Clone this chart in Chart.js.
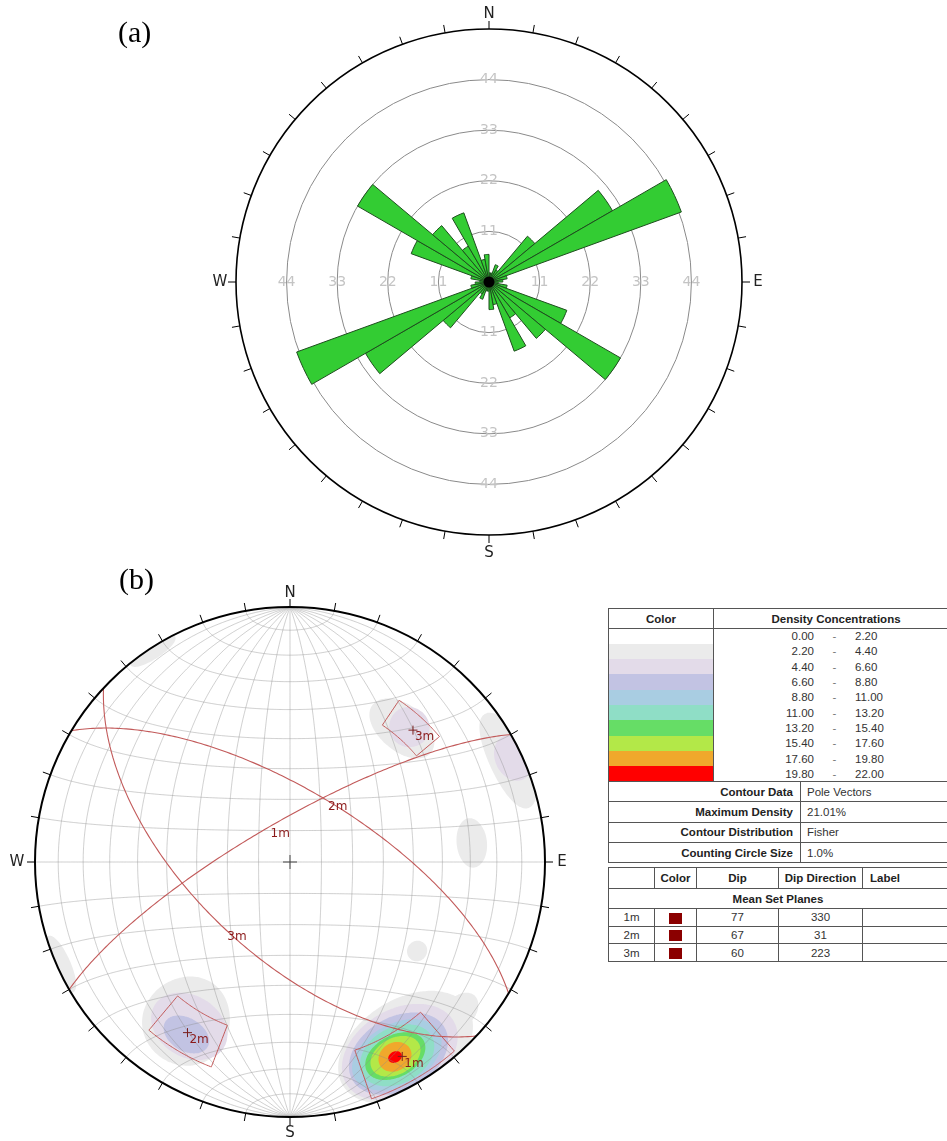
<!DOCTYPE html>
<html>
<head>
<meta charset="utf-8">
<script src="https://cdn.jsdelivr.net/npm/chart.js@4.4.1/dist/chart.umd.min.js"></script>
<style>
  body { margin: 0; width: 947px; height: 1141px; overflow: hidden; background: #fff; position: relative; }
  canvas { position: absolute; }
  .plab { position: absolute; font-family: "Liberation Serif", serif; font-size: 30px; line-height: 30px; color: #000; }
  .tbl { position: absolute; border-collapse: collapse; table-layout: fixed; font: 11.5px "Liberation Sans", Arial, sans-serif; color: #333; }
  .tbl td, .tbl th { border: 1px solid #555; padding: 0; white-space: nowrap; overflow: hidden; }
  .tbl th { color: #222; }
  .tbl td.sw, .tbl td.rng { border-top: none; border-bottom: none; line-height: 14px; }
  .lo { display: inline-block; width: 100px; text-align: right; }
  .dash { display: inline-block; width: 41px; text-align: center; color: #777; }
  .hi { display: inline-block; text-align: left; }
  .c { text-align: center; }
  .sq { display: inline-block; width: 13px; height: 11px; background: #8b0000; vertical-align: middle; }
</style>
</head>
<body>
<canvas id="rose" width="947" height="565" style="left:0;top:0"></canvas>
<canvas id="net" width="600" height="576" style="left:0;top:565px"></canvas>
<div class="plab" style="left:118px;top:17px">(a)</div>
<div class="plab" style="left:119px;top:564px">(b)</div>
<table id="t1" class="tbl" style="left:608px;top:608px;width:350px"></table>
<table id="t2" class="tbl" style="left:608px;top:867px;width:339px"></table>
<script>
// ---- (a) rose diagram: 10 degree bins, counts
const roseLabels = ['0-10','10-20','20-30','30-40','40-50','50-60','60-70','70-80','80-90',
  '90-100','100-110','110-120','120-130','130-140','140-150','150-160','160-170','170-180',
  '180-190','190-200','200-210','210-220','220-230','230-240','240-250','250-260','260-270',
  '270-280','280-290','290-300','300-310','310-320','320-330','330-340','340-350','350-360'];
const roseCounts = [2, 2, 4, 3, 13, 31, 44.5, 4, 3, 2, 4, 18, 33, 16, 9, 16, 5, 6,
                    2, 2, 4, 3, 13, 31, 44.5, 4, 3, 2, 4, 18, 33, 16, 9, 16, 5, 6];
const ringValues = [11, 22, 33, 44];
const roseMax = 55;

// ---- (b) density contour legend
const levelLow = [0.00, 2.20, 4.40, 6.60, 8.80, 11.00, 13.20, 15.40, 17.60, 19.80];
const levelHigh = [2.20, 4.40, 6.60, 8.80, 11.00, 13.20, 15.40, 17.60, 19.80, 22.00];
const levelColors = ['#ffffff', '#ebebeb', '#e3dbe9', '#c2c3e3', '#a9cde2', '#8fdec6',
                     '#66dd66', '#b3e848', '#f0a82c', '#ff0000'];
const infoNames = ['Contour Data', 'Maximum Density', 'Contour Distribution', 'Counting Circle Size'];
const infoValues = ['Pole Vectors', '21.01%', 'Fisher', '1.0%'];

// mean set planes
const setNames = ['1m', '2m', '3m'];
const setDip = [77, 67, 60];
const setDipDir = [330, 31, 223];
// set windows on the poles (trend / plunge ranges, degrees)
const winTrendMin = [139, 201, 34];
const winTrendMax = [161, 220, 50];
const winPlungeMin = [2, 15, 24.5];
const winPlungeMax = [23, 32, 35.5];

// density patches: contour level, centre trend/plunge, angular half-widths (across, along plunge)
const patchLevel  = [1, 1, 1, 1, 1, 1, 1, 1, 1, 2, 2, 2, 2, 3, 3, 4, 5, 6, 7, 8, 9];
const patchTrend  = [148, 131, 327, 213, 40, 65, 246, 84, 125, 150, 211.5, 41.5, 65, 150.5, 211, 151, 151, 151.5, 151.5, 151.7, 151.7];
const patchPlunge = [14, 12, 1, 26, 31.8, 5, 1, 29, 39, 14, 25, 30, 4, 14, 22, 14, 14, 14.2, 14.2, 14.2, 14.2];
const patchSpreadT = [18.5, 5, 6, 11.7, 10.5, 12.2, 7, 6.8, 3, 15.6, 10.9, 5.6, 5.5, 13.3, 6.5, 12.1, 9.9, 8.1, 6.7, 4.3, 1.8];
const patchSpreadP = [19.5, 6, 4, 17, 8.4, 9, 5, 5.6, 3.5, 17.3, 11.6, 7.3, 7.5, 14.8, 6.3, 12.5, 11.3, 8.4, 7.3, 5.7, 2.2];

Chart.defaults.font.family = '"DejaVu Sans", sans-serif';
Chart.defaults.animation = false;

// ---------------- rose diagram
const roseDecor = {
  id: 'roseDecor',
  afterDraw(chart) {
    const s = chart.scales.r, ctx = chart.ctx;
    const cx = s.xCenter, cy = s.yCenter, r = s.drawingArea;
    ctx.save();
    ctx.fillStyle = '#c4c4c4';
    ctx.font = '14px "DejaVu Sans"';
    ctx.textAlign = 'center';
    ctx.textBaseline = 'middle';
    [0, 9, 18, 27].forEach(idx => {
      ringValues.forEach(v => {
        const p = s.getPointPositionForValue(idx, v);
        ctx.fillText(String(v), p.x, p.y);
      });
    });
    ctx.strokeStyle = '#000';
    ctx.lineWidth = 1;
    for (let a = 0; a < 360; a += 10) {
      const t = a * Math.PI / 180;
      ctx.beginPath();
      ctx.moveTo(cx + Math.sin(t) * r, cy - Math.cos(t) * r);
      ctx.lineTo(cx + Math.sin(t) * (r + 8), cy - Math.cos(t) * (r + 8));
      ctx.stroke();
    }
    ctx.fillStyle = '#222';
    ctx.font = '15px "DejaVu Sans"';
    ctx.fillText('N', cx, cy - r - 15);
    ctx.fillText('S', cx, cy + r + 18);
    ctx.fillText('W', cx - r - 16, cy);
    ctx.fillText('E', cx + r + 16, cy);
    ctx.fillStyle = '#000';
    ctx.beginPath();
    ctx.arc(cx, cy, 5.5, 0, 2 * Math.PI);
    ctx.fill();
    ctx.restore();
  }
};

new Chart(document.getElementById('rose'), {
  type: 'polarArea',
  data: {
    labels: roseLabels,
    datasets: [{
      data: roseCounts,
      backgroundColor: '#33cc33',
      borderColor: '#1d4d1d',
      borderWidth: 1
    }]
  },
  options: {
    responsive: false,
    events: [],
    layout: { padding: { left: 236, right: 205, top: 29, bottom: 30 } },
    plugins: { legend: { display: false }, tooltip: { enabled: false } },
    scales: {
      r: {
        min: 0,
        max: roseMax,
        startAngle: 0,
        ticks: { display: false },
        afterBuildTicks: s => { s.ticks = [0, ...ringValues, roseMax].map(v => ({ value: v })); },
        grid: {
          circular: true,
          color: c => (c.tick && c.tick.value === roseMax) ? '#000' : '#8a8a8a',
          lineWidth: c => (c.tick && c.tick.value === roseMax) ? 1.6 : 1
        },
        angleLines: { display: false },
        pointLabels: { display: false }
      }
    }
  },
  plugins: [roseDecor]
});

// ---------------- stereonet (lower hemisphere, equal area)
const D = Math.PI / 180;
function dirVec(trend, plunge) {
  const t = trend * D, p = plunge * D;
  return [Math.cos(p) * Math.cos(t), Math.cos(p) * Math.sin(t), Math.sin(p)];
}
function project(v) {
  let [n, e, d] = v;
  if (d < 0) { const h = Math.hypot(n, e) || 1; n /= h; e /= h; d = 0; }
  const k = 1 / Math.sqrt(1 + d);
  return { x: e * k, y: n * k };
}
function planeCurve(dip, dipDir) {
  const s = (dipDir - 90) * D, a = dipDir * D, dp = dip * D;
  const sv = [Math.cos(s), Math.sin(s), 0];
  const dv = [Math.cos(dp) * Math.cos(a), Math.cos(dp) * Math.sin(a), Math.sin(dp)];
  const pts = [];
  for (let f = 0; f <= 180; f += 2) {
    const c = Math.cos(f * D), sn = Math.sin(f * D);
    pts.push(project([c * sv[0] + sn * dv[0], c * sv[1] + sn * dv[1], c * sv[2] + sn * dv[2]]));
  }
  return pts;
}
function smallCircleNS(beta) {
  const pts = [];
  for (let f = 0; f <= 180; f += 3) {
    pts.push(project([Math.cos(beta * D), Math.sin(beta * D) * Math.cos(f * D), Math.sin(beta * D) * Math.sin(f * D)]));
  }
  return pts;
}
function windowShape(i) {
  const t1 = winTrendMin[i], t2 = winTrendMax[i], p1 = winPlungeMin[i], p2 = winPlungeMax[i];
  const pts = [];
  for (let k = 0; k <= 12; k++) pts.push(project(dirVec(t1 + (t2 - t1) * k / 12, p1)));
  for (let k = 12; k >= 0; k--) pts.push(project(dirVec(t1 + (t2 - t1) * k / 12, p2)));
  pts.push(pts[0]);
  return pts;
}
function patchShape(i) {
  const t = patchTrend[i] * D, p = patchPlunge[i] * D;
  const a = patchSpreadT[i] * D, b = patchSpreadP[i] * D;
  const c = dirVec(patchTrend[i], patchPlunge[i]);
  const u = [-Math.sin(p) * Math.cos(t), -Math.sin(p) * Math.sin(t), Math.cos(p)];
  const v = [-Math.sin(t), Math.cos(t), 0];
  const pts = [];
  for (let k = 0; k <= 90; k++) {
    const s = k / 90 * 2 * Math.PI;
    const wa = a * Math.cos(s), wb = b * Math.sin(s);
    const ang = Math.hypot(wa, wb);
    const dir = [0, 1, 2].map(j => (wa * v[j] + wb * u[j]) / ang);
    pts.push(project([0, 1, 2].map(j => Math.cos(ang) * c[j] + Math.sin(ang) * dir[j])));
  }
  return pts;
}

const netSets = [];
// density fills, lowest level drawn first
patchLevel.forEach((lv, i) => {
  netSets.push({
    data: patchShape(i), showLine: true, fill: 'shape',
    backgroundColor: levelColors[lv], borderColor: 'rgba(0,0,0,0)', borderWidth: 0,
    pointRadius: 0, order: 40 - lv
  });
});
// net grid
const gridStyle = { showLine: true, fill: false, borderColor: 'rgba(140,140,140,0.42)', borderWidth: 1, pointRadius: 0, order: 20 };
for (let dip = 10; dip <= 90; dip += 10) {
  netSets.push({ ...gridStyle, data: planeCurve(dip, 90) });
  if (dip < 90) netSets.push({ ...gridStyle, data: planeCurve(dip, 270) });
}
for (let beta = 10; beta <= 170; beta += 10) netSets.push({ ...gridStyle, data: smallCircleNS(beta) });
// mean set planes and their windows
setNames.forEach((nm, i) => {
  netSets.push({ data: planeCurve(setDip[i], setDipDir[i]), showLine: true, fill: false,
    borderColor: '#c25a5a', borderWidth: 1.1, pointRadius: 0, order: 10 });
  netSets.push({ data: windowShape(i), showLine: true, fill: false,
    borderColor: '#c25a5a', borderWidth: 1, pointRadius: 0, order: 11 });
});
// poles of mean planes
netSets.push({
  data: setNames.map((nm, i) => project(dirVec((setDipDir[i] + 180) % 360, 90 - setDip[i]))),
  pointStyle: 'cross', pointRadius: 4.5, borderColor: '#7a1f1f', borderWidth: 1, order: 2
});
// centre mark
netSets.push({ data: [{ x: 0, y: 0 }], pointStyle: 'cross', pointRadius: 7, borderColor: '#444', borderWidth: 1, order: 3 });

const netDecor = {
  id: 'netDecor',
  afterDatasetsDraw(chart) {
    const { ctx, scales: { x, y } } = chart;
    const cx = x.getPixelForValue(0), cy = y.getPixelForValue(0);
    const r = x.getPixelForValue(1) - cx;
    ctx.save();
    ctx.strokeStyle = '#000';
    ctx.lineWidth = 2;
    ctx.beginPath();
    ctx.arc(cx, cy, r, 0, 2 * Math.PI);
    ctx.stroke();
    ctx.lineWidth = 1;
    for (let a = 0; a < 360; a += 10) {
      const t = a * D;
      ctx.beginPath();
      ctx.moveTo(cx + Math.sin(t) * r, cy - Math.cos(t) * r);
      ctx.lineTo(cx + Math.sin(t) * (r + 8), cy - Math.cos(t) * (r + 8));
      ctx.stroke();
    }
    ctx.fillStyle = '#222';
    ctx.font = '15px "DejaVu Sans"';
    ctx.textAlign = 'center';
    ctx.textBaseline = 'middle';
    ctx.fillText('N', cx, cy - r - 14);
    ctx.fillText('S', cx, cy + r + 16);
    ctx.fillText('W', cx - r - 18, cy);
    ctx.fillText('E', cx + r + 17, cy);
    ctx.fillStyle = '#8b1a1a';
    ctx.font = '12px "DejaVu Sans"';
    ctx.textAlign = 'left';
    ctx.textBaseline = 'top';
    setNames.forEach((nm, i) => {
      const g = project(dirVec(setDipDir[i], setDip[i]));
      ctx.fillText(nm, x.getPixelForValue(g.x) + 1, y.getPixelForValue(g.y) + 1);
      const p = project(dirVec((setDipDir[i] + 180) % 360, 90 - setDip[i]));
      ctx.fillText(nm, x.getPixelForValue(p.x) + 2, y.getPixelForValue(p.y) + 1);
    });
    ctx.restore();
  }
};

new Chart(document.getElementById('net'), {
  type: 'scatter',
  data: { datasets: netSets },
  options: {
    responsive: false,
    events: [],
    layout: { padding: { left: 35, right: 55, top: 42, bottom: 24 } },
    plugins: { legend: { display: false }, tooltip: { enabled: false } },
    // a tiny tension keeps the curves off Chart.js's x-sorted fast path
    elements: { line: { tension: 0.0001 } },
    scales: {
      x: { type: 'linear', min: -1, max: 1, display: false },
      y: { type: 'linear', min: -1, max: 1, display: false }
    }
  },
  plugins: [netDecor]
});

// ---------------- tables
let h1 = '<colgroup><col style="width:105px"><col style="width:87px"><col style="width:158px"></colgroup>';
h1 += '<tr style="height:20px"><th>Color</th><th colspan="2">Density Concentrations</th></tr>';
levelLow.forEach((lo, i) => {
  h1 += '<tr style="height:15.3px"><td class="sw" style="background:' + levelColors[i] + '"></td>' +
        '<td colspan="2" class="rng"><span class="lo">' + lo.toFixed(2) + '</span><span class="dash">-</span>' +
        '<span class="hi">' + levelHigh[i].toFixed(2) + '</span></td></tr>';
});
infoNames.forEach((nm, i) => {
  h1 += '<tr style="height:20.3px"><th colspan="2" style="text-align:right;padding-right:7px">' + nm + '</th>' +
        '<td style="padding-left:6px">' + infoValues[i] + '</td></tr>';
});
document.getElementById('t1').innerHTML = h1;

let h2 = '<colgroup><col style="width:46px"><col style="width:42px"><col style="width:82px"><col style="width:84px"><col style="width:85px"></colgroup>';
h2 += '<tr style="height:21px"><th></th><th>Color</th><th>Dip</th><th>Dip Direction</th><th style="text-align:left;padding-left:7px">Label</th></tr>';
h2 += '<tr style="height:20px"><th colspan="5">Mean Set Planes</th></tr>';
setNames.forEach((nm, i) => {
  h2 += '<tr style="height:17.7px"><td class="c">' + nm + '</td><td class="c"><span class="sq"></span></td>' +
        '<td class="c">' + setDip[i] + '</td><td class="c">' + setDipDir[i] + '</td><td></td></tr>';
});
document.getElementById('t2').innerHTML = h2;
</script>
</body>
</html>
